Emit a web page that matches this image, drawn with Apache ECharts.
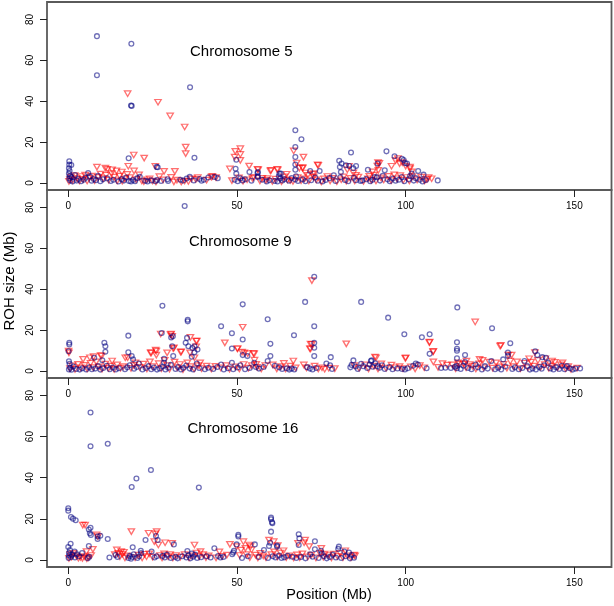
<!DOCTYPE html>
<html><head><meta charset="utf-8">
<script src="https://cdn.jsdelivr.net/npm/echarts@6/dist/echarts.min.js"></script>
<style>html,body{margin:0;padding:0;background:#fff}#c{width:614px;height:606px}</style>
</head><body><div id="c"></div>
<script>
const panelTitles = ["Chromosome 5", "Chromosome 9", "Chromosome 16"];
const xTicks = [0, 50, 100, 150];
const yTicks = [0, 20, 40, 60, 80];

const chr5Blue = [
[8.5,71.8],[8.5,52.7],[18.7,68.1],[18.6,37.9],[18.8,37.7],[36.1,46.8],[17.9,12.1],[37.4,12.4],
[67.3,25.8],[69.1,21.4],[67.3,17.6],[67.3,12.7],[67.3,9.1],[67.3,6.5],[67.5,3.3],[67.2,1.7],
[83.8,14.9],[80.3,10.9],[81.0,9.5],[80.5,7.8],[80.8,5.4],[80.6,2.8],
[94.3,15.5],[96.7,13.1],[98.9,11.9],[99.8,9.8],[100.4,9.5],[99.4,11.3],
[0.3,10.6],[0.3,9.0],[0.9,8.8],[0.2,7.2],[0.4,5.9],[0.2,4.6],[0.5,3.4],[0.3,2.2],[0.6,1.2],[1.0,2.8],[1.3,0.8],
[49.8,11.4],[49.6,7.0],[49.8,4.6],[51.0,2.3],[51.6,1.3],[53.7,5.4],[56.2,5.4],[56.2,3.3],[56.1,4.9],[56.1,2.9],
[5.9,4.9],[6.4,3.3],[2.0,3.9],[26.5,7.7],[26.2,7.9],
[85.3,8.3],[88.8,6.5],[87.1,1.3],[90.8,2.9],[91.7,9.5],[93.8,6.2],[103.7,5.9],[105.3,4.1],[109.5,1.3],[101.3,3.4],[83.3,8.3],[82.3,8.7],[84.5,7.2],[78.7,3.8],[74.5,5.9],[71.7,5.9],[63.0,4.6],[62.4,3.3],[62.6,4.6],[63.5,1.3],[62.8,2.2],
[2.5,1.2],[3.0,2.0],[3.8,0.9],[4.6,1.6],[5.2,2.6],[6.9,1.1],[7.5,2.0],[8.2,1.4],[8.8,3.5],[9.5,0.9],[10.3,1.8],[11.5,2.3],[12.6,1.0],[13.4,1.6],[14.9,0.8],[15.8,1.9],[16.5,1.2],[17.2,2.7],[18.0,1.0],[18.6,0.8],[19.2,1.5],[19.8,0.9],[20.5,2.4],[21.2,3.0],[22.8,1.1],[23.5,0.8],[24.6,1.3],[25.8,0.9],[26.3,1.5],[27.5,1.0],[29.4,1.8],[29.6,1.0],[33.2,1.6],[34.0,1.2],[35.1,2.2],[36.0,3.0],[37.2,1.3],[38.9,2.0],[39.5,1.1],[40.2,1.6],[41.5,2.7],[43.3,3.0],[44.3,2.4],
[49.3,1.6],[50.2,0.9],[52.4,1.8],[54.3,1.1],[57.5,1.6],[58.8,0.8],[59.6,1.4],[61.2,1.0],[62.0,0.8],[64.0,1.9],[65.4,1.1],[66.2,2.5],[68.1,1.0],[69.5,1.8],[70.3,0.9],[72.0,1.4],[73.2,2.7],[74.0,1.1],[75.4,0.8],[76.3,1.5],[77.4,2.4],[79.2,1.0],[82.0,1.5],[83.0,0.9],[84.6,2.6],[85.3,1.4],[86.6,1.0],[88.3,1.9],[89.5,0.9],[90.2,1.6],[91.5,2.8],[92.4,1.2],[93.2,3.6],[94.6,1.8],[95.3,0.9],[96.2,2.2],[97.0,1.1],[98.0,1.6],[98.8,2.9],[99.6,0.9],[100.9,1.8],[101.8,4.6],[102.4,1.2],[103.0,2.4],[104.2,1.6],[105.0,0.8],[106.0,1.5]
];
const chr5Red = [
[17.6,43.7],[19.4,13.7],[17.8,8.2],[26.6,39.5],[30.2,32.8],[34.5,27.4],[34.8,17.6],[34.8,14.4],[22.5,12.2],[8.5,7.8],[11.0,7.3],[11.6,6.7],[14.3,5.9],[13.0,6.5],[25.8,8.2],[28.4,5.7],[31.6,5.7],[19.5,5.9],[15.9,5.4],
[47.9,6.9],[49.3,12.7],[51.0,16.8],[51.0,14.0],[51.0,11.1],[49.5,15.5],[53.6,8.3],[56.3,6.5],[59.9,5.9],[62.1,6.5],[66.8,15.7],[69.7,12.7],[74.1,8.6],[69.4,7.5],[72.9,4.6],[82.7,6.5],[91.8,10.0],[91.6,8.3],[91.9,6.2],[95.8,8.2],[97.7,11.9],[99.0,10.0],[101.3,7.8],[101.8,5.5],[106.8,2.6],[107.7,2.1],[5.0,3.9],[42.4,2.9],[42.7,3.3],
[67.7,9.8],[68.5,7.3],[69.5,7.3],[70.3,4.9],[71.0,3.8],[72.4,4.3],[73.9,8.9],[54.6,2.3],[56.1,6.7],[57.5,2.3],[58.6,1.3],[60.1,6.2],[61.9,6.7],[64.7,4.3],[65.8,1.3],[83.2,8.2],[84.5,5.0],[85.3,3.8],[89.2,3.3],[90.2,5.5],[92.2,9.6],[97.0,11.0],[98.2,9.5],[100.0,8.3],[101.3,7.0],
[0.2,0.8],[0.5,1.8],[0.8,2.9],[1.3,1.2],[1.9,3.6],[2.6,2.2],[3.3,1.0],[3.9,3.2],[4.4,1.8],[5.6,1.0],[6.2,2.4],[7.0,3.4],[7.8,1.2],[8.9,2.8],[9.6,4.4],[10.4,2.2],[11.2,3.8],[12.0,1.4],[12.8,4.6],[13.6,2.9],[14.5,1.1],[15.2,3.4],[16.0,0.9],[16.8,2.0],[17.5,4.2],[18.3,2.6],[20.1,1.7],[21.0,4.0],[21.8,1.0],[22.4,0.7],[23.3,1.6],[24.1,2.1],[25.0,1.0],[26.0,0.6],[27.0,3.1],[28.1,1.5],[30.5,2.8],[31.3,0.6],[32.2,1.4],[33.5,0.5],[34.5,1.0],[35.6,0.8],[36.5,2.0],[37.8,1.8],[38.4,2.6],[41.0,1.4],[43.8,2.6],
[48.5,1.2],[50.6,2.5],[51.8,0.9],[53.0,1.6],[55.0,2.8],[56.8,1.1],[59.0,2.2],[60.5,0.8],[61.4,1.9],[63.2,0.7],[64.0,3.0],[65.0,1.5],[66.6,0.8],[68.0,2.6],[69.0,1.2],[70.0,2.0],[71.3,1.0],[72.7,2.9],[73.5,1.5],[75.0,0.6],[75.8,2.0],[76.8,3.2],[77.6,1.1],[78.4,2.3],[79.6,0.7],[80.9,1.6],[81.6,3.0],[82.4,0.9],[83.6,2.3],[84.9,1.0],[86.0,2.9],[87.5,0.8],[88.8,2.1],[89.8,1.3],[90.6,3.9],[91.2,1.0],[92.7,2.5],[93.5,1.5],[94.9,3.3],[95.7,1.2],[96.6,4.0],[97.4,2.1],[98.4,3.6],[99.3,1.4],[100.3,2.7],[101.1,1.0],[102.0,3.1],[103.4,1.5],[104.6,2.9],[105.6,1.0],[106.3,1.8]
];
const chr9Blue = [
[34.5,80.7],[72.9,46.1],[70.2,33.8],[86.8,33.8],[27.9,31.9],[51.7,32.6],[94.8,26.1],[59.1,25.3],[115.3,31.1],[125.6,20.9],[45.3,21.9],[72.9,21.9],[35.4,24.3],[35.4,25.1],[27.7,18.6],[48.5,18.5],[17.8,17.3],[99.6,18.0],[104.8,16.5],[107.1,18.0],[107.1,8.4],[115.2,14.1],[115.2,10.9],[115.2,9.9],[131.0,13.6],[130.3,9.1],[130.3,7.5],[117.6,7.8],[138.4,9.7],[139.0,7.8],[140.5,6.8],[66.9,17.5],[59.9,13.3],[59.9,7.3],[59.1,4.9],[51.7,15.4],[51.7,7.8],[53.1,7.3],[48.5,11.0],[72.9,13.8],[72.9,11.4],[72.9,7.3],[76.5,3.7],[77.8,6.8],[77.6,2.8],
[0.3,13.8],[0.3,13.0],[0.1,9.7],[0.2,4.8],[0.4,3.6],[10.7,13.8],[11.0,12.1],[11.0,9.4],[10.1,5.3],[7.7,6.5],[17.8,9.2],[18.8,7.3],[19.2,5.7],[20.9,3.7],[28.4,6.0],[28.4,4.0],[30.5,16.4],[31.0,17.0],[30.8,12.1],[31.1,7.3],[34.8,13.8],[35.2,16.2],[35.6,12.1],[36.8,11.3],[37.4,12.1],[38.3,10.5],[37.4,9.2],[36.6,7.0],[38.1,3.7],[45.3,3.2],[48.5,4.0],[55.1,4.0],[55.6,2.0],[89.7,4.9],[89.9,5.2],[103.0,3.7],[84.5,5.2],[117.6,4.4],[120.7,3.2],[125.4,4.9],[128.9,5.7],[135.2,4.9],[141.6,6.5],[142.2,4.0],[147.8,2.4],[151.7,1.3],[84.0,3.0],[85.2,2.2],[86.8,3.6],[91.0,3.8],[91.6,2.4],[115.2,6.2],[115.2,2.6],[115.2,1.4],
[0.2,0.8],[0.6,1.6],[1.0,0.6],[1.6,2.2],[2.4,1.0],[3.4,0.7],[4.2,1.4],[5.3,0.8],[6.2,1.8],[7.0,0.9],[8.0,1.2],[8.8,2.4],[9.5,0.7],[10.4,1.5],[11.4,2.6],[12.3,0.9],[13.2,1.7],[14.1,0.8],[15.0,1.4],[16.8,0.9],[17.5,1.8],[18.2,2.8],[19.5,1.1],[20.3,2.0],[22.0,0.8],[22.9,1.5],[23.8,2.4],[24.6,0.9],[25.4,1.7],[26.3,0.7],[27.1,1.3],[28.0,2.2],[28.8,0.8],[29.6,1.6],[30.4,3.0],[31.8,1.0],[32.6,2.0],[33.4,0.8],[34.2,1.6],[35.0,2.7],[36.0,1.2],[37.0,0.8],[38.8,1.5],[40.5,0.9],[41.5,1.6],[43.0,1.0],[44.2,2.0],[46.1,0.8],[47.3,1.4],[48.9,0.9],[50.2,1.7],[51.0,2.8],[52.4,0.9],[53.8,1.5],[56.5,1.2],[57.9,2.0],[61.2,2.6],[62.5,1.8],[63.4,1.0],[64.8,1.4],[65.5,0.7],[66.2,1.2],[67.0,0.8],[70.8,1.9],[71.6,1.2],[72.4,0.8],[73.5,1.5],[78.2,1.0],[83.6,1.8],[85.8,1.0],[87.4,2.4],[88.6,1.5],[89.3,3.2],[90.2,2.1],[92.3,1.6],[93.0,2.8],[93.8,1.0],[95.2,2.0],[96.1,0.9],[97.6,1.3],[98.9,1.0],[99.8,0.8],[100.6,1.4],[102.2,2.6],[103.6,3.2],[106.2,1.4],[110.5,1.5],[111.8,1.6],[113.4,1.5],[114.6,2.1],[116.3,1.0],[117.1,2.6],[118.5,1.5],[119.5,0.9],[121.4,1.8],[122.6,0.8],[123.5,2.4],[124.3,1.2],[126.5,0.9],[127.4,1.6],[128.3,0.8],[129.5,2.2],[131.6,1.0],[132.4,1.8],[133.5,0.9],[134.6,1.5],[136.0,2.4],[136.8,0.7],[137.6,1.3],[138.6,0.8],[139.5,2.0],[140.3,1.1],[141.0,2.8],[142.9,1.3],[143.8,0.8],[144.6,1.9],[145.5,1.0],[146.3,2.6],[147.1,0.9],[148.6,1.4],[149.5,0.7],[150.3,1.2]
];
const chr9Red = [
[72.2,44.2],[120.6,24.0],[51.7,21.4],[27.4,18.1],[30.5,18.1],[36.2,16.5],[38.1,14.6],[31.3,11.3],[33.3,9.2],[36.1,8.9],[46.4,13.8],[82.4,13.3],[72.2,13.0],[71.6,10.9],[128.2,12.5],[107.1,14.1],[108.1,9.4],[108.2,4.5],[0.2,8.9],[0.1,9.7],[24.6,8.9],[26.1,9.7],[26.1,7.8],[9.9,7.3],[7.5,7.0],[6.4,6.5],[4.4,5.7],[17.6,6.5],[19.5,2.8],[13.0,4.9],[37.4,6.5],[39.1,4.0],[52.2,8.9],[55.1,8.4],[66.7,4.9],[63.9,3.7],[90.9,6.8],[100.0,6.5],[121.9,5.7],[122.8,5.2],[131.4,7.8],[136.6,6.0],[141.4,6.0],[143.4,4.9],[146.5,4.0],[115.5,4.0],[110.9,3.6],[112.3,2.9],[50.1,10.9],[51.5,9.2],[53.2,8.5],[54.9,8.6],[55.2,5.3],[55.7,3.3],[9.6,7.6],[16.9,6.5],[24.4,8.9],[25.9,10.2],[29.3,8.9],[31.1,11.0],[33.5,9.4],[37.9,11.8],[37.9,14.6],[50.2,10.9],[30.3,17.8],[30.8,17.0],[91.2,6.5],[99.9,6.2],[107.0,13.9],[108.2,9.6],[117.2,3.5],[118.0,4.8],[119.0,3.2],[130.4,7.8],[138.3,9.0],[128.0,12.2],[71.8,13.2],[71.8,10.8],
[0.5,1.2],[1.2,2.5],[2.0,0.8],[2.9,3.3],[3.7,1.5],[4.8,2.8],[5.6,1.1],[6.6,3.8],[7.4,1.7],[8.3,4.5],[9.1,2.0],[10.0,0.9],[11.0,3.4],[11.9,1.3],[12.7,2.4],[13.6,0.8],[14.5,3.0],[15.5,1.4],[16.3,2.2],[18.6,1.3],[19.9,4.0],[21.2,1.8],[22.3,3.4],[23.3,1.0],[24.2,4.5],[25.0,2.2],[26.8,3.6],[27.6,1.2],[28.6,5.2],[29.4,2.6],[30.0,0.9],[31.5,4.4],[32.3,1.6],[33.1,3.2],[34.0,0.7],[35.3,4.0],[36.3,2.2],[37.3,1.0],[38.5,2.6],[39.5,1.2],[41.0,2.4],[42.4,1.0],[43.6,2.3],[45.2,1.5],[46.8,2.6],[47.8,0.9],[49.5,2.0],[50.7,1.0],[52.0,3.2],[53.4,1.4],[54.4,2.6],[56.0,1.8],[57.2,1.0],[58.4,2.6],[60.6,3.0],[61.8,1.1],[63.0,2.2],[64.4,1.0],[65.8,2.4],[67.4,1.5],[69.8,3.0],[70.6,1.5],[73.0,2.4],[74.1,1.0],[75.2,1.6],[76.0,0.9],[77.2,1.4],[79.0,1.2],[84.8,2.6],[86.2,1.4],[88.0,3.0],[89.0,1.1],[90.6,2.4],[91.8,1.0],[92.8,3.5],[94.2,1.4],[95.8,2.9],[96.8,1.6],[98.2,2.2],[99.2,1.2],[101.5,2.0],[102.8,1.1],[104.2,2.6],[105.5,1.6],[109.6,1.8],[113.8,3.0],[114.8,1.2],[116.0,3.4],[117.9,1.6],[119.8,2.4],[120.8,1.0],[121.8,3.5],[123.1,1.6],[124.8,4.4],[125.8,1.4],[126.8,4.0],[127.8,2.0],[129.0,3.3],[130.0,1.4],[131.0,4.8],[132.0,2.2],[133.0,4.5],[134.0,1.2],[135.2,3.8],[136.2,1.6],[137.2,4.4],[138.0,2.4],[139.2,5.2],[140.0,1.9],[141.2,3.2],[142.4,1.4],[143.2,2.4],[144.2,4.2],[145.0,1.6],[146.0,3.0],[147.4,1.2],[148.2,2.2],[149.0,0.8],[150.8,1.4]
];
const chr16Blue = [
[6.6,71.7],[6.6,55.3],[11.7,56.5],[24.5,43.8],[20.2,39.6],[18.8,35.5],[38.7,35.2],[0,25.2],[0,24.0],[0.8,20.9],[1.4,20.1],[2.2,19.3],[6.6,15.7],[6.1,14.8],[6.4,13.0],[6.7,12.2],[8.7,11.4],[9.5,11.8],[8.7,10.2],[11.7,10.2],[0,6.3],[0.7,7.9],[6.1,6.8],[1.9,4.1],[4.1,3.4],[19.1,6.2],[21.5,4.5],[22.9,9.7],[24.7,4.1],[26.0,11.7],[26.5,9.7],[31.3,7.6],[35.3,4.4],[36.6,3.2],[43.3,5.7],[50.4,12.2],[50.4,11.4],[49.9,7.6],[49.1,4.5],[48.9,3.6],[55.3,7.6],[58.0,4.9],[60.1,20.6],[60.1,19.8],[60.4,18.3],[60.5,17.9],[60.1,13.8],[59.8,8.4],[59.5,6.8],[61.9,7.0],[61.9,6.5],[68.3,12.5],[68.5,10.5],[68.3,7.3],[73.1,9.1],[73.1,5.2],[71.7,2.8],[74.9,4.5],[75.1,3.2],[80.2,6.5],[80.0,5.4],[81.8,4.1],[83.2,3.6],[84.7,1.1],[65.0,2.1],
[0.1,1.0],[0.3,2.2],[0.2,3.4],[0.5,4.8],[0.8,1.5],[1.2,2.6],[2.0,1.2],[2.6,2.8],[3.2,1.8],[5.8,0.9],[6.2,1.6],[12.2,1.2],[14.0,2.4],[14.6,1.5],[17.8,1.0],[18.2,2.0],[18.6,0.6],[19.0,1.5],[19.4,2.8],[20.5,1.0],[21.0,1.8],[21.6,3.4],[25.6,1.2],[26.2,1.8],[28.0,2.0],[28.6,1.2],[29.2,2.6],[30.4,1.0],[31.8,1.5],[32.4,0.8],[33.8,1.8],[35.0,1.2],[35.6,2.3],[36.2,0.8],[37.0,1.6],[37.6,2.6],[38.2,1.0],[39.4,1.4],[41.0,1.8],[42.2,1.2],[44.4,1.9],[45.1,1.2],[46.0,1.5],[48.6,2.8],[51.5,1.0],[53.2,1.8],[56.5,1.5],[59.2,1.0],[60.6,1.8],[61.4,1.2],[62.5,2.2],[63.2,1.0],[64.0,1.3],[66.4,1.6],[67.6,1.0],[69.0,1.5],[70.3,0.8],[72.4,1.6],[74.2,1.0],[75.8,1.8],[76.6,0.8],[77.5,1.5],[78.4,2.6],[79.3,1.2],[80.9,1.0],[82.2,1.8],[83.5,0.8],[84.0,2.4]
];
const chr16Red = [
[4.3,17.0],[5.0,17.0],[8.4,12.2],[8.8,11.4],[7.3,5.2],[5.4,4.1],[18.7,13.8],[23.8,13.0],[26.2,13.8],[25.8,12.7],[25.5,8.9],[26.7,7.3],[28.7,8.4],[14.4,4.9],[15.7,4.1],[16.5,3.7],[37.4,7.3],[39.2,4.1],[47.9,7.6],[49.9,6.5],[51.9,8.9],[52.5,5.7],[54.0,6.5],[53.6,7.3],[54.3,4.9],[56.9,3.2],[59.5,9.7],[60.9,8.9],[62.1,7.0],[63.8,4.5],[68.1,8.1],[70.2,9.7],[69.9,8.4],[71.4,6.5],[75.0,5.7],[76.0,2.9],[78.6,2.9],[82.1,4.5],[84.7,2.4],[30.8,8.1],
[0.2,0.8],[0.6,2.6],[1.0,1.4],[1.5,3.2],[2.4,2.0],[3.0,0.9],[3.6,1.3],[4.2,0.8],[4.8,1.6],[5.5,0.7],[6.0,1.2],[6.8,2.2],[13.8,2.6],[14.8,3.2],[15.3,1.6],[16.0,2.8],[16.8,1.0],[17.4,2.0],[19.8,1.2],[20.8,2.4],[21.9,1.0],[22.6,2.8],[23.2,1.6],[24.0,3.0],[25.0,1.4],[27.2,2.2],[27.8,1.0],[28.4,3.0],[29.6,1.6],[30.2,2.6],[31.0,1.0],[32.0,2.2],[33.2,1.4],[34.5,2.6],[35.8,1.0],[36.8,2.0],[38.0,3.4],[38.8,1.6],[40.0,2.6],[40.8,1.2],[41.6,2.0],[43.8,1.0],[44.8,4.0],[45.6,1.8],[47.0,2.4],[50.8,2.2],[51.2,4.8],[52.8,2.6],[53.8,1.2],[55.5,2.4],[56.2,1.0],[57.8,2.0],[58.6,1.2],[60.2,2.6],[61.0,4.0],[62.0,1.5],[62.9,3.4],[64.6,1.2],[65.6,2.0],[66.8,1.0],[67.8,2.5],[68.6,1.2],[69.4,3.0],[71.0,1.5],[72.0,2.4],[73.4,1.0],[74.6,3.2],[75.6,1.4],[77.0,2.2],[78.0,1.0],[79.8,1.8],[80.6,3.2],[81.4,1.2],[82.8,2.0],[83.8,1.2],[85.0,2.0]
];

const blueSets = [chr5Blue, chr9Blue, chr16Blue];
const redSets = [chr5Red, chr9Red, chr16Red];

const chart = echarts.init(document.getElementById('c'), null, {renderer: 'canvas'});
const gridTops = [2, 190, 378];
const gridHeights = [188, 188, 189];
const titlePos = [[190, 52], [189, 241.5], [187.5, 429]];
const FONT = '"Liberation Sans", Arial, Helvetica, sans-serif';
const grids = [], xAxes = [], yAxes = [], series = [], graphics = [];
const tri = 'path://M0,0L10,0L5,8.66Z';
for (let i = 0; i < 3; i++) {
  grids.push({left: 47, right: 2.5, top: gridTops[i], height: gridHeights[i], show: true,
    borderColor: '#5a5a5a', borderWidth: 1.8, backgroundColor: 'transparent', containLabel: false});
  xAxes.push({type: 'value', gridIndex: i, min: -6.3, max: 161, splitLine: {show: false},
    axisLine: {show: false, onZero: false},
    axisTick: {show: true, length: 7, lineStyle: {color: '#222', width: 1}, customValues: xTicks},
    axisLabel: {show: true, customValues: xTicks, fontSize: 10, color: '#000', margin: 11, fontFamily: FONT}});
  yAxes.push({type: 'value', gridIndex: i, min: -3.4, max: 88.5, splitLine: {show: false},
    axisLine: {show: false, onZero: false},
    axisTick: {show: true, length: 7, lineStyle: {color: '#222', width: 1}, customValues: yTicks},
    axisLabel: {show: true, customValues: yTicks, rotate: 90, fontSize: 10, color: '#000', margin: 12, fontFamily: FONT}});
  series.push({type: 'scatter', xAxisIndex: i, yAxisIndex: i, data: redSets[i], symbol: tri,
    symbolSize: [6.4, 5.5], silent: true,
    itemStyle: {color: 'rgba(0,0,0,0)', borderColor: 'rgba(255,0,0,0.7)', borderWidth: 1.3}});
  series.push({type: 'scatter', xAxisIndex: i, yAxisIndex: i, data: blueSets[i], symbol: 'circle',
    symbolSize: 4.8, silent: true,
    itemStyle: {color: 'rgba(0,0,0,0)', borderColor: 'rgba(0,0,128,0.7)', borderWidth: 1.3}});
  graphics.push({type: 'text', x: titlePos[i][0], y: titlePos[i][1],
    style: {text: panelTitles[i], font: '15px ' + FONT, fill: '#000', align: 'left', verticalAlign: 'middle'}});
}
graphics.push({type: 'text', x: 10, y: 281, rotation: Math.PI / 2,
  style: {text: 'ROH size (Mb)', font: '15px ' + FONT, fill: '#000', align: 'center', verticalAlign: 'middle'}});
graphics.push({type: 'text', x: 329, y: 595,
  style: {text: 'Position (Mb)', font: '14.5px ' + FONT, fill: '#000', align: 'center', verticalAlign: 'middle'}});

chart.setOption({
  animation: false,
  backgroundColor: '#fff',
  grid: grids, xAxis: xAxes, yAxis: yAxes, series: series, graphic: graphics
});
</script></body></html>
